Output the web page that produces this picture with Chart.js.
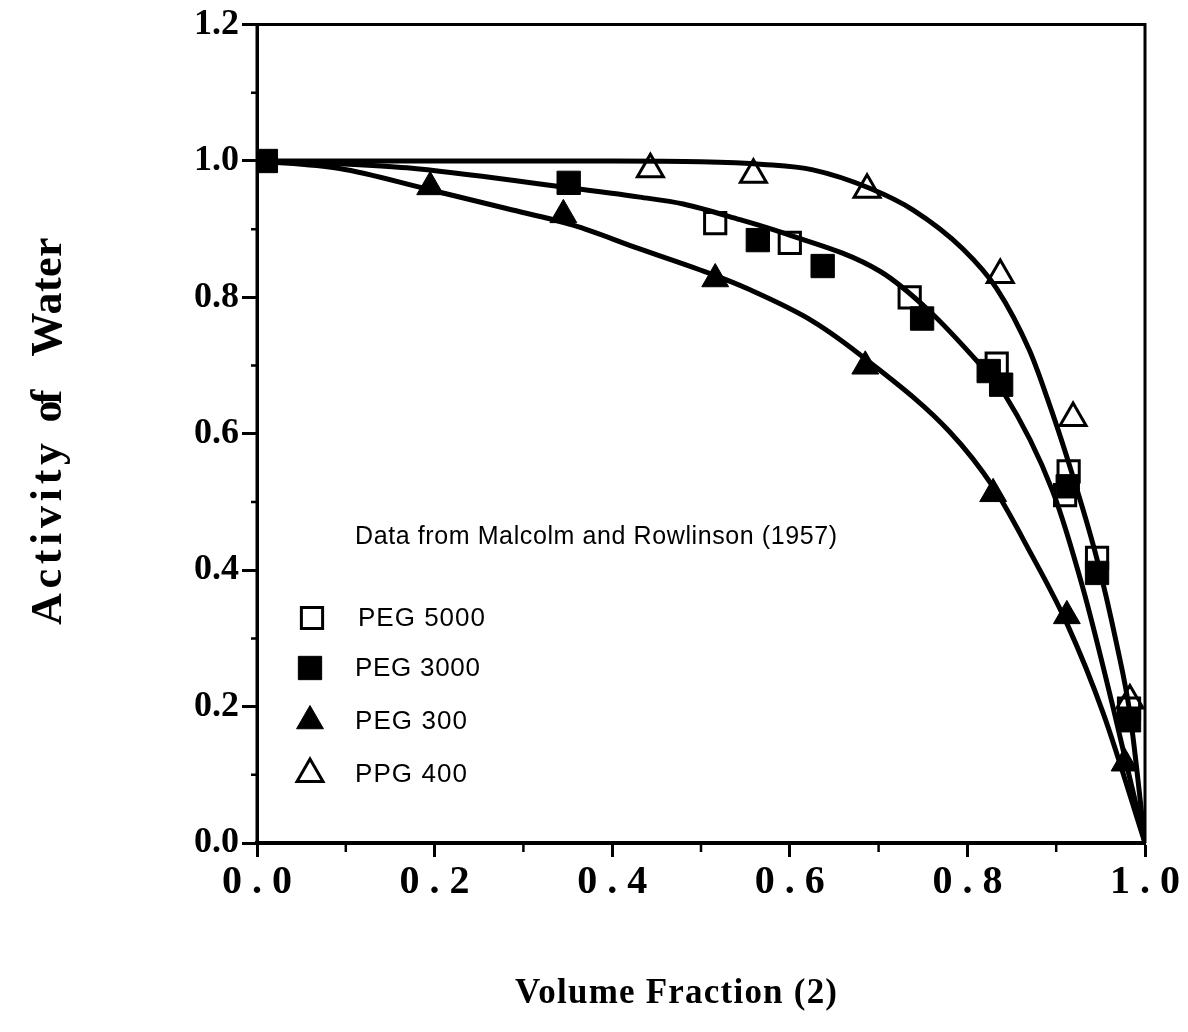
<!DOCTYPE html>
<html>
<head>
<meta charset="utf-8">
<script src="https://cdn.jsdelivr.net/npm/chart.js@4.4.1/dist/chart.umd.min.js"></script>
<style>
  html, body { margin: 0; padding: 0; background: #ffffff; }
  #wrap { width: 1188px; height: 1032px; }
</style>
</head>
<body>
<div id="wrap"><canvas id="c" width="1188" height="1032"></canvas></div>
<script>
// ---------------- data ----------------
const seriesNames = ['PEG 5000', 'PEG 3000', 'PEG 300', 'PPG 400'];

const peg5000X = [0.516, 0.600, 0.735, 0.833, 0.914, 0.910, 0.946, 0.982];
const peg5000Y = [0.909, 0.880, 0.800, 0.703, 0.545, 0.510, 0.418, 0.197];

const peg3000X = [0.010, 0.351, 0.564, 0.637, 0.749, 0.824, 0.838, 0.913, 0.946, 0.982];
const peg3000Y = [1.000, 0.968, 0.884, 0.846, 0.769, 0.692, 0.672, 0.523, 0.396, 0.180];

const peg300X = [0.195, 0.345, 0.516, 0.685, 0.829, 0.912, 0.977];
const peg300Y = [0.962, 0.921, 0.827, 0.699, 0.512, 0.333, 0.117];

const ppg400X = [0.443, 0.559, 0.687, 0.837, 0.919, 0.983];
const ppg400Y = [0.988, 0.980, 0.958, 0.833, 0.623, 0.209];

// fitted curves (traced)
const curveTopX = [0.00, 0.20, 0.40, 0.50, 0.57, 0.626, 0.69, 0.739, 0.795, 0.833, 0.870, 0.890, 0.913, 0.946, 0.968, 0.983, 1.00];
const curveTopY = [1.000, 1.000, 1.000, 0.999, 0.995, 0.987, 0.960, 0.928, 0.871, 0.813, 0.722, 0.652, 0.562, 0.416, 0.292, 0.190, 0.000];

const curveMidX = [0.00, 0.093, 0.169, 0.338, 0.431, 0.480, 0.544, 0.589, 0.702, 0.758, 0.814, 0.840, 0.896, 0.930, 0.964, 1.00];
const curveMidY = [1.000, 0.996, 0.990, 0.963, 0.947, 0.937, 0.914, 0.896, 0.838, 0.779, 0.702, 0.662, 0.516, 0.374, 0.199, 0.000];

const curveLowX = [0.00, 0.093, 0.191, 0.282, 0.356, 0.431, 0.514, 0.552, 0.626, 0.687, 0.780, 0.829, 0.870, 0.912, 0.953, 1.00];
const curveLowY = [1.000, 0.989, 0.959, 0.930, 0.906, 0.871, 0.833, 0.813, 0.765, 0.708, 0.603, 0.522, 0.428, 0.322, 0.190, 0.000];

// axis ticks
const xMajorTicks = [0.0, 0.2, 0.4, 0.6, 0.8, 1.0];
const xMinorTicks = [0.1, 0.3, 0.5, 0.7, 0.9];
const yMajorTicks = [0.0, 0.2, 0.4, 0.6, 0.8, 1.0, 1.2];
const yMinorTicks = [0.1, 0.3, 0.5, 0.7, 0.9, 1.1];

const xTitle = 'Volume Fraction (2)';
const yTitleWords = ['Activity', 'of', 'Water'];
const noteText = 'Data from Malcolm and Rowlinson (1957)';

// ---------------- helpers ----------------
const pts = (xs, ys) => xs.map((x, i) => ({ x: x, y: ys[i] }));
const SERIF = '"Liberation Serif", "DejaVu Serif", serif';
const SANS = '"Liberation Sans", Arial, sans-serif';

function fitText(ctx, text, left, cy, width) {
  ctx.letterSpacing = '0px';
  const w = ctx.measureText(text).width;
  const ls = (width - w) / Math.max(1, text.length - 1);
  ctx.letterSpacing = ls.toFixed(2) + 'px';
  ctx.textAlign = 'left';
  ctx.textBaseline = 'middle';
  ctx.fillText(text, left, cy);
  ctx.letterSpacing = '0px';
}

const markerStyles = [
  { pointStyle: 'rect', radius: 15, fill: 'rgba(0,0,0,0)', bw: 3 },
  { pointStyle: 'rect', radius: 16.5, fill: '#000', bw: 1 },
  { pointStyle: 'triangle', radius: 15.5, fill: '#000', bw: 1 },
  { pointStyle: 'triangle', radius: 15, fill: 'rgba(0,0,0,0)', bw: 3 }
];

const decorPlugin = {
  id: 'decor',
  beforeDatasetsDraw(chart) {
    const ctx = chart.ctx;
    const a = chart.chartArea;
    const xs = chart.scales.x, ys = chart.scales.y;
    ctx.save();
    ctx.strokeStyle = '#000';
    ctx.lineWidth = 3;
    ctx.beginPath();
    ctx.moveTo(a.left, a.bottom);
    ctx.lineTo(a.left, a.top);
    ctx.lineTo(a.right, a.top);
    ctx.lineTo(a.right, a.bottom);
    ctx.stroke();
    ctx.lineWidth = 4;
    ctx.beginPath();
    ctx.moveTo(a.left - 1, a.bottom);
    ctx.lineTo(a.right + 1, a.bottom);
    ctx.stroke();
    // minor ticks
    ctx.lineWidth = 2.5;
    ctx.beginPath();
    yMinorTicks.forEach(v => {
      const py = ys.getPixelForValue(v);
      ctx.moveTo(a.left - 6, py); ctx.lineTo(a.left, py);
    });
    xMinorTicks.forEach(v => {
      const px = xs.getPixelForValue(v);
      ctx.moveTo(px, a.bottom); ctx.lineTo(px, a.bottom + 9);
    });
    ctx.stroke();
    ctx.restore();
  },
  afterDraw(chart) {
    const ctx = chart.ctx;
    ctx.save();
    ctx.fillStyle = '#000';
    // y title (rotated words)
    ctx.font = 'bold 44px ' + SERIF;
    const wordCenters = [534, 406, 297];
    const wordWidths = [182, 33, 119];
    yTitleWords.forEach((w, i) => {
      ctx.save();
      ctx.translate(50, wordCenters[i]);
      ctx.rotate(-Math.PI / 2);
      fitText(ctx, w, -wordWidths[i] / 2, 0, wordWidths[i]);
      ctx.restore();
    });
    // x title
    ctx.font = 'bold 35px ' + SERIF;
    fitText(ctx, xTitle, 515, 994, 322);
    // note
    ctx.font = '25px ' + SANS;
    fitText(ctx, noteText, 355, 537, 482);
    // legend
    const legendRows = [
      { cx: 312, cy: 618, tx: 358, w: 127 },
      { cx: 310, cy: 668, tx: 355, w: 125 },
      { cx: 310, cy: 721, tx: 355, w: 112 },
      { cx: 310, cy: 774, tx: 355, w: 112 }
    ];
    legendRows.forEach((r, i) => {
      const m = markerStyles[i];
      ctx.fillStyle = m.fill;
      ctx.strokeStyle = '#000';
      ctx.lineWidth = m.bw;
      Chart.helpers.drawPoint(ctx, { pointStyle: m.pointStyle, radius: m.radius, rotation: 0, borderWidth: m.bw }, r.cx, r.cy);
      ctx.fillStyle = '#000';
      ctx.font = '26px ' + SANS;
      fitText(ctx, seriesNames[i], r.tx, r.cy + 1, r.w);
    });
    ctx.restore();
  }
};

const markerData = [pts(peg5000X, peg5000Y), pts(peg3000X, peg3000Y), pts(peg300X, peg300Y), pts(ppg400X, ppg400Y)];

const datasets = markerData.map((d, i) => ({
  label: seriesNames[i],
  data: d,
  showLine: false,
  pointStyle: markerStyles[i].pointStyle,
  pointRadius: markerStyles[i].radius,
  pointBackgroundColor: markerStyles[i].fill,
  pointBorderColor: '#000',
  pointBorderWidth: markerStyles[i].bw,
  order: 1
}));

[[curveTopX, curveTopY], [curveMidX, curveMidY], [curveLowX, curveLowY]].forEach((c, i) => {
  datasets.push({
    label: 'fit ' + (i + 1),
    data: pts(c[0], c[1]),
    showLine: true,
    borderColor: '#000',
    borderWidth: 5,
    pointRadius: 0,
    cubicInterpolationMode: 'monotone',
    borderCapStyle: 'round',
    borderJoinStyle: 'round',
    fill: false,
    order: 2
  });
});

new Chart(document.getElementById('c'), {
  type: 'scatter',
  data: { datasets: datasets },
  plugins: [decorPlugin],
  options: {
    responsive: false,
    devicePixelRatio: 1,
    animation: false,
    layout: { padding: { left: 0, top: 22, right: 43, bottom: 0 } },
    plugins: { legend: { display: false }, tooltip: { enabled: false } },
    scales: {
      x: {
        type: 'linear', min: 0, max: 1,
        afterBuildTicks: s => { s.ticks = xMajorTicks.map(v => ({ value: v })); },
        afterFit: s => { s.height = 189; },
        ticks: {
          color: '#000',
          padding: 2,
          maxRotation: 0,
          font: { family: SERIF, size: 40, weight: 'bold' },
          callback: v => Number(v).toFixed(1).split('').join(' ')
        },
        grid: { drawOnChartArea: false, drawTicks: true, tickLength: 14, tickWidth: 3, tickColor: '#000' },
        border: { display: true, color: '#000', width: 4 }
      },
      y: {
        type: 'linear', min: 0, max: 1.2,
        afterBuildTicks: s => { s.ticks = yMajorTicks.map(v => ({ value: v })); },
        afterFit: s => { s.width = 257; },
        ticks: {
          color: '#000',
          padding: 3,
          font: { family: SERIF, size: 36, weight: 'bold' },
          callback: v => Number(v).toFixed(1)
        },
        grid: { drawOnChartArea: false, drawTicks: true, tickLength: 15, tickWidth: 3, tickColor: '#000' },
        border: { display: true, color: '#000', width: 3 }
      }
    }
  }
});
</script>
</body>
</html>
